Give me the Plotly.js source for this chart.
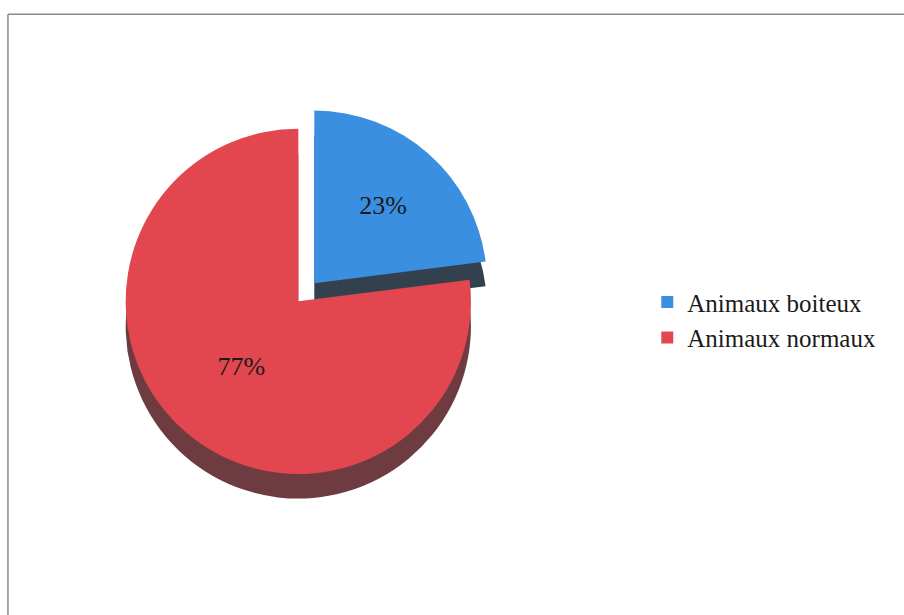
<!DOCTYPE html>
<html>
<head>
<meta charset="utf-8">
<script src="https://cdn.plot.ly/plotly-3.0.1.min.js"></script>
<style>html,body{margin:0;padding:0;background:#fff;}#chart{width:904px;height:615px;}</style>
</head>
<body>
<div id="chart"></div>
<script>
const categories = ["Animaux boiteux", "Animaux normaux"];
const values = [23, 77];
const colors = ["#3a8fe0", "#e2474f"];
const sideColors = ["#33414f", "#6e3b40"];

const common = {
  type: "pie",
  labels: categories,
  values: values,
  sort: false,
  direction: "clockwise",
  rotation: 0,
  pull: [0.14, 0],
  hole: 0
};

const shadowTrace = Object.assign({}, common, {
  domain: {x: [0.11, 0.55], y: [0.15, 0.79]},
  marker: {colors: sideColors, line: {width: 0}},
  textinfo: "none",
  hoverinfo: "skip",
  showlegend: false
});

const topTrace = Object.assign({}, common, {
  domain: {x: [0.11, 0.55], y: [0.19, 0.83]},
  marker: {colors: colors, line: {width: 0}},
  textinfo: "percent",
  texttemplate: "%{percent:.0%}",
  textposition: "inside",
  insidetextorientation: "horizontal",
  textfont: {family: "Liberation Serif, Times New Roman, serif", size: 26, color: "#1a1a1a"},
  showlegend: true
});

const layout = {
  width: 904, height: 615,
  margin: {l: 0, r: 0, t: 0, b: 0},
  paper_bgcolor: "#ffffff",
  showlegend: true,
  legend: {
    x: 0.716, y: 0.48, xanchor: "left", yanchor: "middle",
    font: {family: "Liberation Serif, Times New Roman, serif", size: 25, color: "#1a1a1a"},
    bgcolor: "rgba(0,0,0,0)",
    itemclick: false
  },
  shapes: [
    {type: "line", xref: "paper", yref: "paper", x0: 0.0088, x1: 1, y0: 0.977, y1: 0.977, line: {color: "#8a8a8a", width: 1.5}},
    {type: "line", xref: "paper", yref: "paper", x0: 0.0088, x1: 0.0088, y0: 0, y1: 0.977, line: {color: "#8a8a8a", width: 1.5}}
  ]
};

Plotly.newPlot("chart", [shadowTrace, topTrace], layout, {displayModeBar: false, staticPlot: true});
</script>
</body>
</html>
